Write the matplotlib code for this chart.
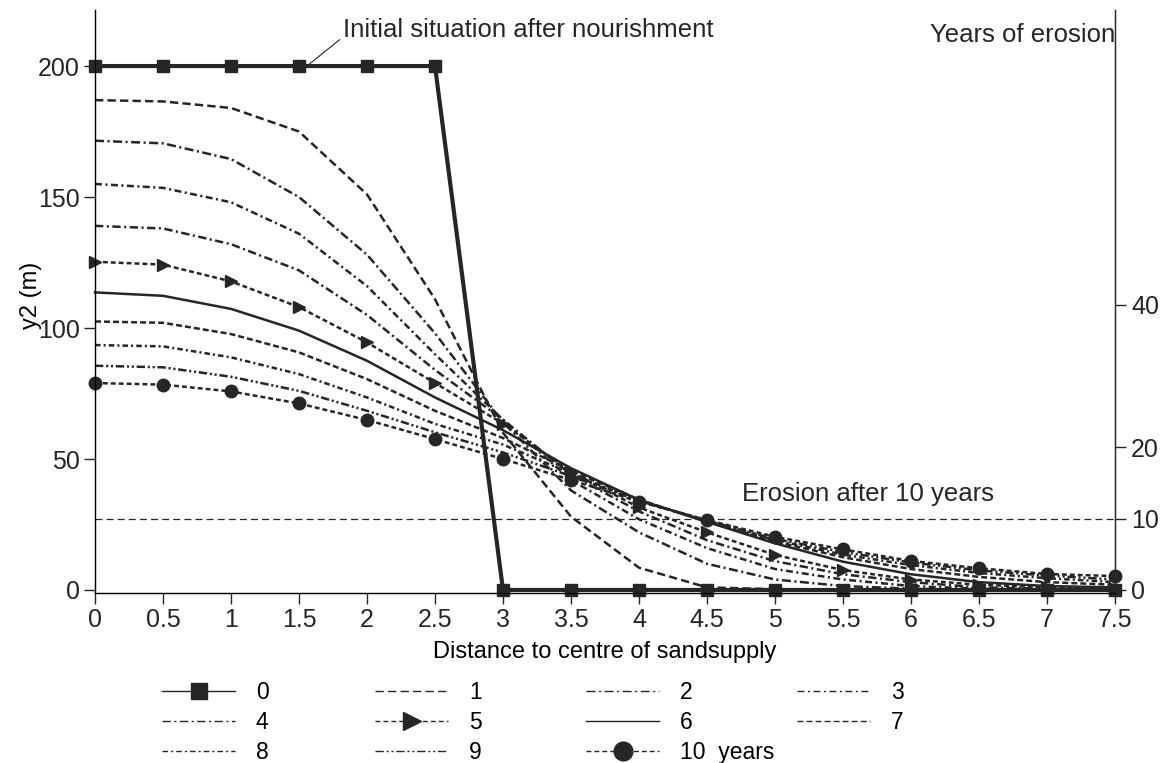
import numpy as np
import matplotlib.pyplot as plt
from matplotlib.lines import Line2D

plt.rcParams['font.family'] = ['Liberation Sans', 'DejaVu Sans']
plt.rcParams['lines.scale_dashes'] = False

# distance to centre of sand supply
x = [0, 0.5, 1, 1.5, 2, 2.5, 3, 3.5, 4, 4.5, 5, 5.5, 6, 6.5, 7, 7.5]

# y2 (m) after n years of erosion
y0 = [200, 200, 200, 200, 200, 200, 0, 0, 0, 0, 0, 0, 0, 0, 0, 0]
y1 = [187, 186.5, 184, 175, 151, 111, 60, 28, 8.5, 1, 0.3, 0, 0, 0, 0, 0]
y2 = [171.5, 170.5, 164.5, 150, 128, 98, 64, 38, 22, 10, 4, 1.5, 0.5, 0, 0, 0]
y3 = [155, 153.5, 148, 136, 116, 90, 65, 42, 27, 16, 8, 4, 1.5, 0.5, 0, 0]
y4 = [139, 138, 132, 122, 105, 84, 65, 44, 30, 19, 11, 6, 3, 1, 0.5, 0]
y5 = [125.3, 124.2, 117.8, 108, 94.5, 79, 63.5, 45, 31.5, 22, 13.4, 7.6, 4, 2, 1, 0.5]
y6 = [113.6, 112.3, 107.3, 99, 87.5, 73.5, 61, 46.5, 34.4, 26, 17.8, 10.8, 6, 3, 1.5, 1]
y7 = [102.5, 102, 97.7, 90.7, 80.5, 68.4, 58, 45.5, 34.5, 26, 18.5, 12.5, 8, 5, 3, 2]
y8 = [93.5, 93, 88.8, 82.4, 73.5, 63.4, 55.5, 44.5, 34, 26.5, 19, 13.5, 9.5, 6.5, 4.5, 3]
y9 = [85.6, 85, 81.4, 76, 68.4, 60.2, 52.5, 43.5, 34, 26.5, 19.5, 14.5, 10.5, 7.5, 5.5, 4]
y10 = [79, 78.4, 75.8, 71.2, 64.9, 57.6, 50, 42, 33.7, 26.7, 20.3, 15.5, 11.1, 8.3, 6.1, 5.3]

labels = ['0', '1', '2', '3', '4', '5', '6', '7', '8', '9', '10  years']
erosion_10yr = 10  # right axis value

ink = '#262626'
styles = [
    dict(ls='-', lw=3.0, marker='s', ms=8),
    dict(ls=(0, (6, 3)), lw=1.8),
    dict(ls=(0, (6.5, 2.5, 1.5, 2.5)), lw=1.8),
    dict(ls=(0, (5, 2.5, 1.5, 2.5)), lw=1.8),
    dict(ls=(0, (6, 2.5, 1.5, 2.5)), lw=1.8),
    dict(ls=(0, (3.5, 2.2)), lw=1.8, marker='>', ms=9),
    dict(ls='-', lw=1.8),
    dict(ls=(0, (4.3, 2.2)), lw=1.8),
    dict(ls=(0, (4, 2.2, 1.5, 2.2)), lw=1.8),
    dict(ls=(0, (6, 2, 1.5, 2, 1.5, 2)), lw=1.8),
    dict(ls=(0, (3.5, 2.2)), lw=1.8, marker='o', ms=9),
]
series = [y0, y1, y2, y3, y4, y5, y6, y7, y8, y9, y10]

fig = plt.figure(figsize=(11.74, 7.63), dpi=100)
ax = fig.add_axes([95 / 1174, 1 - 593 / 763, 1020 / 1174, 583 / 763])

handles = []
for ys, st, lab in zip(series, styles, labels):
    ax.plot(x, ys, color=ink, clip_on=False, zorder=3, **st)
    h = Line2D([], [], color=ink, lw=1.0, ls=st['ls'],
               marker=st.get('marker'), ms=st.get('ms', 0) * 1.5, label=lab)
    handles.append(h)

ax.set_xlim(0, 7.5)
ax.set_ylim(-1.15, 221.4)
ax.set_xticks(x)
ax.set_xticklabels(['0', '0.5', '1', '1.5', '2', '2.5', '3', '3.5', '4', '4.5',
                    '5', '5.5', '6', '6.5', '7', '7.5'])
ax.set_yticks([0, 50, 100, 150, 200])
ax.spines['top'].set_visible(False)
for s in ['left', 'right', 'bottom']:
    ax.spines[s].set_linewidth(1.0)
    ax.spines[s].set_color(ink)
ax.tick_params(direction='out', length=8, width=1, labelsize=18, colors=ink, pad=3)
ax.set_xlabel('Distance to centre of sandsupply', fontsize=17, labelpad=6)
ax.set_ylabel('y2 (m)', fontsize=17)
ax.yaxis.set_label_coords(-0.052, 0.51)

ax2 = ax.twinx()
ax2.set_ylim(-1.15 / 2.72, 221.4 / 2.72)
ax2.set_yticks([0, 10, 20, 40])
ax2.spines['top'].set_visible(False)
ax2.spines['right'].set_color(ink)
ax2.tick_params(direction='out', length=8, width=1, labelsize=18, colors=ink)

ax2.axhline(erosion_10yr, color=ink, lw=0.9, ls=(0, (5, 3)))
ax2.text(4.76, 13.5, 'Erosion after 10 years', fontsize=18.5, color=ink, va='center')

ax.annotate('Initial situation after nourishment', xy=(1.57, 200.5), xytext=(1.82, 213.7),
            fontsize=18.5, color=ink, va='center', ha='left',
            arrowprops=dict(arrowstyle='-', lw=0.8, color=ink, relpos=(0, 0.2),
                            shrinkA=0, shrinkB=0))
ax.text(7.5, 211.8, 'Years of erosion', fontsize=18.5, color=ink, ha='right', va='center')

# legend laid out row by row, one legend per column
col_x = [162, 375, 586, 797]
for c in range(4):
    idx = [i for i in range(c, len(handles), 4)]
    fig.legend([handles[i] for i in idx], [labels[i] for i in idx],
               loc='upper left', bbox_to_anchor=(col_x[c] / 1174, 1 - 681 / 763),
               frameon=False, fontsize=16.5, handlelength=3.2, handletextpad=0.9,
               labelspacing=0.3, borderaxespad=0, borderpad=0)

fig.savefig('out.png', dpi=100)
